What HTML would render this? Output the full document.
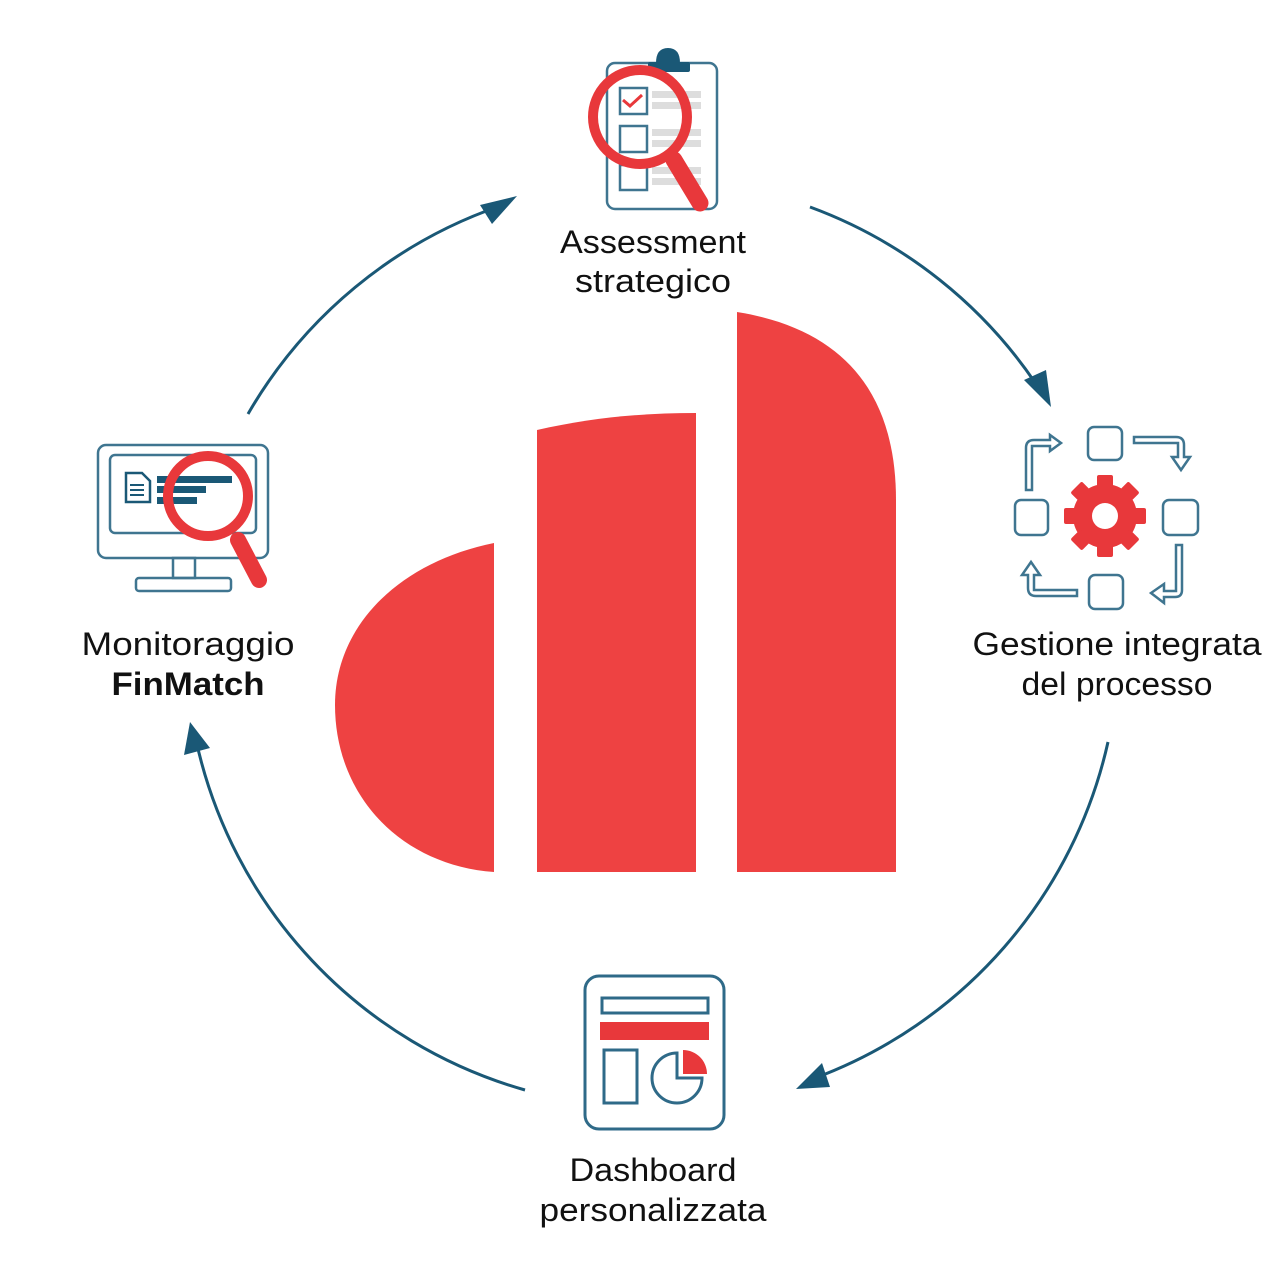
<!DOCTYPE html>
<html><head><meta charset="utf-8"><style>
html,body{margin:0;padding:0;background:#fff}
svg{display:block}
text{font-family:"Liberation Sans",sans-serif;fill:#111;font-size:32px;text-anchor:middle}
</style></head><body>
<svg width="1280" height="1280" viewBox="0 0 1280 1280" xmlns="http://www.w3.org/2000/svg">
<defs>
<marker id="ah" markerWidth="10" markerHeight="10" refX="6" refY="5" orient="auto" markerUnits="userSpaceOnUse" viewBox="0 0 10 10">
</marker>
</defs>
<!-- logo -->
<g fill="#EE4242">
<path d="M494,543 C400,562 335,625 335,705 C335,795 400,865 494,872 Z"/>
<path d="M537,430 C590,418 640,413 696,413 L696,872 L537,872 Z"/>
<path d="M737,312 C850,330 896,400 896,500 L896,872 L737,872 Z"/>
</g>
<!-- arcs -->
<g fill="none" stroke="#1a5876" stroke-width="3">
<path d="M248,414 A467,467 0 0 1 500,206"/>
<path d="M810,207 A467,467 0 0 1 1040,390"/>
<path d="M1108,742 A467,467 0 0 1 815,1078"/>
<path d="M525,1090 A467,467 0 0 1 196,740"/>
</g>
<g fill="#1a5876">
<polygon points="517,196 480,205 492,224"/>
<polygon points="1051,407 1024,380 1046,370"/>
<polygon points="796,1089 822,1063 830,1087"/>
<polygon points="190,722 184,755 210,748"/>
</g>
<!-- clipboard icon -->
<g fill="none" stroke="#3f7590" stroke-width="2.5">
<rect x="607" y="63" width="110" height="146" rx="8"/>
<rect x="620" y="88" width="27" height="26"/>
<rect x="620" y="126" width="27" height="26"/>
<rect x="620" y="165" width="27" height="25"/>
</g>
<path d="M656,72 L656,63 Q656,48 668,48 Q680,48 680,63 L680,72 Z" fill="#1a5876"/>
<rect x="648" y="62" width="42" height="10" rx="2" fill="#1a5876"/>
<g fill="#ddd">
<rect x="652" y="91" width="49" height="7"/><rect x="652" y="102" width="49" height="7"/>
<rect x="652" y="129" width="49" height="7"/><rect x="652" y="140" width="49" height="7"/>
<rect x="652" y="167" width="49" height="7"/><rect x="652" y="178" width="49" height="7"/>
</g>
<path d="M623,100 L630,106 L642,95" fill="none" stroke="#e8383b" stroke-width="3"/>
<circle cx="640" cy="117" r="47" fill="none" stroke="#e8383b" stroke-width="10"/>
<line x1="674" y1="160" x2="700" y2="203" stroke="#e8383b" stroke-width="17" stroke-linecap="round"/>
<!-- gear icon -->
<g fill="none" stroke="#3f7590" stroke-width="2.5">
<rect x="1088" y="427" width="34" height="33" rx="6"/>
<rect x="1015" y="500" width="33" height="35" rx="6"/>
<rect x="1163" y="500" width="35" height="35" rx="6"/>
<rect x="1089" y="575" width="34" height="34" rx="6"/>
<path d="M1026,490 L1026,448 Q1026,440 1034,440 L1050,440 L1050,435 L1061,443 L1050,451 L1050,446 L1032,446 L1032,490 Z"/>
<path d="M1134,437 L1176,437 Q1184,437 1184,445 L1184,457 L1190,457 L1181,470 L1172,457 L1178,457 L1178,443 L1134,443 Z"/>
<path d="M1182,545 L1182,590 Q1182,597 1175,597 L1164,597 L1164,603 L1151,593 L1164,584 L1164,591 L1176,591 L1176,545 Z"/>
<path d="M1077,596 L1036,596 Q1028,596 1028,588 L1028,575 L1022,575 L1031,562 L1040,575 L1034,575 L1034,590 L1077,590 Z"/>
</g>
<g fill="#e8383b" transform="translate(1105,516)">
<circle r="32"/>
<g id="t"><rect x="-8" y="-41" width="16" height="14" rx="2"/></g>
<use href="#t" transform="rotate(45)"/><use href="#t" transform="rotate(90)"/><use href="#t" transform="rotate(135)"/>
<use href="#t" transform="rotate(180)"/><use href="#t" transform="rotate(225)"/><use href="#t" transform="rotate(270)"/><use href="#t" transform="rotate(315)"/>
</g>
<circle cx="1105" cy="516" r="13" fill="#fff"/>
<!-- monitor icon -->
<g fill="none" stroke="#3f7590" stroke-width="2.5">
<rect x="98" y="445" width="170" height="113" rx="8"/>
<rect x="110" y="455" width="146" height="78" rx="5"/>
<rect x="173" y="558" width="22" height="20"/>
<rect x="136" y="578" width="95" height="13" rx="3"/>
</g>
<path d="M126,473 L142,473 L150,481 L150,502 L126,502 Z" fill="none" stroke="#1a5876" stroke-width="2.5"/>
<g fill="#1a5876">
<rect x="130" y="484" width="14" height="2"/><rect x="130" y="489" width="14" height="2"/><rect x="130" y="494" width="14" height="2"/>
<rect x="157" y="476" width="75" height="7"/><rect x="157" y="486" width="49" height="7"/><rect x="157" y="497" width="40" height="7"/>
</g>
<circle cx="208" cy="496" r="40" fill="none" stroke="#e8383b" stroke-width="10"/>
<line x1="238" y1="540" x2="259" y2="580" stroke="#e8383b" stroke-width="16" stroke-linecap="round"/>
<!-- dashboard icon -->
<g fill="none" stroke="#2f6a88" stroke-width="3">
<rect x="585" y="976" width="139" height="153" rx="14"/>
<rect x="602" y="998" width="106" height="15"/>
<rect x="604" y="1050" width="33" height="53"/>
<path d="M677,1053 A25,25 0 1 0 702,1078 L677,1078 Z"/>
</g>
<rect x="600" y="1022" width="109" height="18" fill="#e8383b"/>
<path d="M683,1050 A24,24 0 0 1 707,1074 L683,1074 Z" fill="#e8383b"/>
<!-- labels -->
<text x="653" y="253" textLength="186" lengthAdjust="spacingAndGlyphs">Assessment</text>
<text x="653" y="292" textLength="156" lengthAdjust="spacingAndGlyphs">strategico</text>
<text x="188" y="655" textLength="213" lengthAdjust="spacingAndGlyphs">Monitoraggio</text>
<text x="188" y="695" textLength="153" lengthAdjust="spacingAndGlyphs" font-weight="bold">FinMatch</text>
<text x="1117" y="655" textLength="289" lengthAdjust="spacingAndGlyphs">Gestione integrata</text>
<text x="1117" y="695" textLength="191" lengthAdjust="spacingAndGlyphs">del processo</text>
<text x="653" y="1181" textLength="167" lengthAdjust="spacingAndGlyphs">Dashboard</text>
<text x="653" y="1221" textLength="227" lengthAdjust="spacingAndGlyphs">personalizzata</text>
</svg>
</body></html>
